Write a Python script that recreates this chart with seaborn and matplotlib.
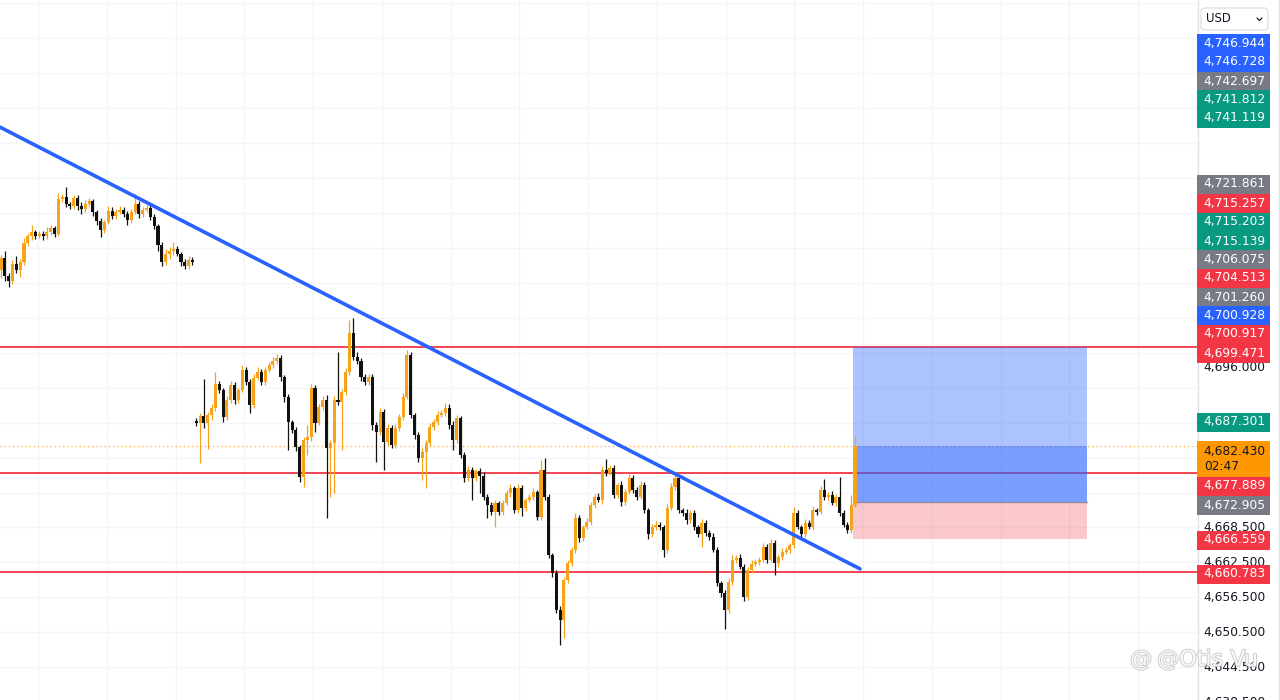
import matplotlib
matplotlib.use("Agg")
import matplotlib.pyplot as plt
import matplotlib.patheffects as pe
from matplotlib.patches import Rectangle, FancyBboxPatch
import pandas as pd
import seaborn as sns


# -------------------------
# Data
# -------------------------
# closes of the left session (before the gap)
closes_left = [
    4714.7, 4711.6, 4710.8, 4713.7, 4712.7, 4714.0, 4717.3, 4718.5, 4719.2, 4718.5,
    4718.8, 4718.5, 4719.2, 4719.9, 4718.8, 4724.9, 4725.2, 4724.0, 4723.6, 4725.0,
    4723.6, 4723.1, 4724.0, 4724.5, 4722.6, 4721.1, 4719.6, 4720.9, 4722.8, 4722.0,
    4722.6, 4723.0, 4722.3, 4721.3, 4722.6, 4724.0, 4722.3, 4723.0, 4723.3, 4721.8,
    4720.2, 4717.0, 4714.0, 4715.4, 4715.9, 4716.3, 4715.4, 4714.0, 4713.4, 4714.4,
    4714.0,
]
# closes of the right session (after the gap)
closes_right = [
    4686.5, 4687.7, 4686.5, 4687.8, 4689.0, 4693.1, 4692.1, 4687.5, 4690.4, 4692.9,
    4690.4, 4692.1, 4695.5, 4693.5, 4689.5, 4694.2, 4695.2, 4693.5, 4695.5, 4696.4,
    4697.0, 4697.6, 4694.3, 4690.9, 4686.6, 4685.3, 4682.3, 4677.2, 4683.5, 4684.0,
    4692.4, 4686.5, 4689.2, 4690.4, 4682.2, 4683.0, 4690.4, 4690.0, 4691.8, 4695.2,
    4701.9, 4697.8, 4697.0, 4694.3, 4693.5, 4694.3, 4686.1, 4684.9, 4688.3, 4683.2,
    4685.6, 4682.7, 4685.6, 4687.5, 4690.9, 4698.1, 4687.8, 4684.4, 4680.4, 4681.5,
    4683.0, 4685.8, 4686.6, 4687.8, 4688.2, 4689.0, 4686.1,
    4683.5, 4687.3, 4681.0, 4677.0, 4678.4, 4677.0, 4678.2, 4677.4, 4673.8, 4672.4,
    4671.2, 4672.7, 4671.2, 4672.7, 4674.4, 4675.3, 4671.5, 4675.3, 4671.9, 4673.2,
    4673.8, 4674.6, 4670.3, 4678.4, 4673.8, 4663.8, 4660.7, 4654.4, 4652.7, 4659.5,
    4662.4, 4664.7, 4670.2, 4666.7, 4668.6, 4669.5, 4672.4, 4673.8, 4673.2, 4678.4,
    4677.9, 4678.7, 4674.1, 4675.8, 4672.9, 4674.6, 4677.0, 4675.0, 4673.8, 4675.8,
    4671.5, 4667.3, 4668.6, 4669.0, 4668.6, 4664.7, 4671.9, 4675.5, 4677.0, 4671.5,
    4671.0, 4669.8, 4671.0,
    4668.6, 4667.3, 4669.3, 4667.6, 4666.9, 4664.7, 4659.0, 4657.3, 4654.4, 4659.2,
    4663.0, 4663.3, 4661.8, 4656.6, 4661.2, 4662.3, 4662.6, 4663.0, 4665.2, 4663.0,
    4665.9, 4662.4, 4663.5, 4664.3, 4664.7, 4665.5, 4671.0, 4668.6, 4667.3, 4669.3,
    4668.6, 4671.5, 4671.2, 4675.0, 4673.8, 4674.1, 4672.7, 4673.8, 4671.0, 4669.0,
    4668.1, 4672.4, 4682.43,
]
# wick lengths above / below the body
upper_left = [
    0.6, 1.2, 0.5, 0.7, 1.4, 0.5, 0.9, 0.6, 1.2, 0.4, 0.5, 0.6, 0.8, 0.5, 0.4, 1.0, 0.6,
    1.7, 0.4, 0.6, 0.5, 0.8, 0.6, 0.5, 0.4, 0.3, 0.5, 0.4, 0.9, 0.6, 0.5, 0.7, 0.4, 0.5,
    0.6, 1.8, 0.5, 0.4, 0.6, 0.5, 0.4, 0.3, 0.4, 0.9, 0.8, 1.2, 0.5, 0.4, 0.6, 0.7, 0.5,
]
lower_left = [
    1.4, 0.8, 1.0, 0.6, 0.5, 1.2, 0.4, 0.5, 0.6, 0.5, 0.4, 0.7, 0.5, 0.6, 0.5, 0.3, 0.5,
    0.6, 0.4, 0.5, 0.6, 0.8, 0.5, 0.4, 0.6, 0.7, 1.2, 0.5, 0.4, 0.6, 0.5, 0.4, 0.6, 0.9,
    0.5, 0.4, 0.7, 0.5, 0.4, 0.6, 0.5, 1.1, 0.6, 0.5, 0.8, 0.6, 0.4, 0.7, 0.6, 0.5, 0.4,
]
upper_right = [
    0.5, 0.4, 6.3, 0.5, 0.6, 2.1, 0.5, 0.4, 0.6, 0.8, 0.5, 0.4, 0.9, 0.5, 0.4, 0.6, 0.8,
    0.5, 0.6, 0.5, 0.7, 0.6, 0.5, 0.4, 0.5, 0.4, 0.5, 0.4, 0.6, 2.0, 0.8, 0.6, 0.5, 0.7,
    0.9, 0.5, 0.6, 8.2, 0.5, 0.6, 2.2, 2.6, 0.8, 0.5, 0.6, 0.5, 0.6, 0.5, 0.7, 0.5, 0.6,
    0.5, 0.6, 0.5, 0.7, 0.9, 0.5, 0.4, 0.5, 0.6, 0.5, 0.7, 0.5, 0.6, 0.5, 0.8, 0.6,
    0.6, 0.5, 0.4, 0.5, 0.6, 0.5, 0.4, 0.5, 0.6, 0.4, 0.5, 0.6, 0.4, 0.5, 0.6, 0.7, 0.4,
    0.6, 0.5, 0.4, 0.5, 0.6, 0.4, 1.7, 2.1, 0.5, 0.4, 0.5, 0.6, 0.5, 0.6, 0.5, 0.7, 0.5,
    0.4, 0.6, 0.5, 0.4, 0.6, 0.7, 1.8, 0.6, 0.5, 0.4, 0.6, 0.5, 0.7, 0.5, 0.4, 0.6, 0.5,
    0.4, 0.5, 0.6, 0.5, 0.4, 0.6, 0.7, 1.0, 0.5, 0.4, 0.6, 0.5,
    0.5, 0.4, 0.6, 0.5, 0.4, 0.6, 0.5, 0.4, 0.5, 0.6, 0.7, 0.5, 0.6, 0.4, 0.5, 0.6, 0.5,
    0.4, 0.6, 0.5, 0.7, 0.4, 0.5, 0.6, 0.5, 0.4, 1.0, 0.5, 0.4, 0.6, 0.5, 0.6, 0.4, 0.7,
    1.9, 0.5, 0.6, 0.4, 3.3, 0.5, 0.4, 1.7, 1.7,
]
lower_right = [
    0.6, 6.9, 0.9, 4.6, 0.8, 0.5, 0.6, 0.9, 0.5, 0.6, 0.7, 0.5, 0.4, 0.6, 1.4, 0.5, 0.4,
    0.6, 0.5, 0.4, 0.5, 0.4, 0.6, 0.8, 4.8, 0.6, 0.7, 0.9, 1.7, 2.5, 0.6, 1.7, 0.5, 0.6,
    12.0, 8.4, 8.6, 0.5, 8.2, 0.6, 0.5, 0.6, 0.5, 0.7, 0.5, 0.6, 0.8, 5.1, 0.6, 4.8, 0.7,
    0.6, 0.5, 0.6, 0.5, 0.4, 0.6, 0.8, 0.7, 3.8, 6.2, 0.5, 0.6, 0.5, 0.4, 0.6, 0.7,
    1.7, 0.5, 0.6, 0.7, 0.5, 3.8, 0.5, 2.9, 0.6, 2.2, 0.5, 2.7, 0.6, 0.5, 0.4, 0.6, 0.5,
    0.6, 1.5, 0.5, 0.4, 0.5, 0.6, 0.5, 0.6, 0.5, 0.7, 0.6, 4.3, 3.1, 0.6, 0.5, 0.6, 0.7,
    0.5, 0.4, 0.6, 0.5, 0.4, 0.6, 0.5, 0.4, 0.6, 0.5, 0.7, 0.5, 0.4, 0.6, 0.5, 0.4, 0.6,
    0.8, 0.5, 0.6, 0.5, 1.2, 0.5, 0.4, 0.5, 0.6, 0.5, 0.7, 0.5,
    0.6, 0.5, 2.1, 0.6, 0.5, 0.4, 0.6, 0.7, 3.4, 0.6, 0.5, 0.6, 0.4, 0.7, 0.6, 0.5, 0.4,
    0.6, 0.5, 0.6, 0.5, 2.1, 0.6, 0.5, 0.4, 0.6, 0.5, 0.4, 0.6, 0.5, 0.4, 0.6, 0.5, 0.4,
    0.6, 0.5, 0.4, 0.6, 0.5, 0.4, 0.6, 0.5, 0.4,
]
first_open = 4712.7
gap_open = 4686.8

# horizontal levels and drawings
red_levels = [4699.471, 4677.889, 4660.783]
last_price = 4682.430
trend_x = [-0.3, 224.3]
trend_y = [4737.2, 4661.4]

# long position tool
entry = 4672.905
target = 4699.471
stop = 4666.559
box_x = [222.5, 283.5]

# price scale
price_ticks = [4638.5, 4644.5, 4650.5, 4656.5, 4662.5, 4668.5, 4696.0]
grid_prices = [4638.5 + 6 * k for k in range(21)]
grid_bars = [9.7, 27.6, 45.6, 63.5, 81.5, 99.4, 117.4, 135.3, 153.3, 171.2,
             189.2, 207.1, 225.1, 243.0, 261.0, 278.9, 296.9]

# price tags on the right scale
tag_texts = ["4,746.944", "4,746.728", "4,742.697", "4,741.812", "4,741.119",
             "4,721.861", "4,715.257", "4,715.203", "4,715.139", "4,706.075",
             "4,704.513", "4,701.260", "4,700.928", "4,700.917", "4,699.471",
             "4,687.301", "4,677.889", "4,672.905", "4,666.559", "4,660.783"]
tag_colors = ["#2962ff", "#2962ff", "#787b86", "#089981", "#089981",
              "#787b86", "#f23645", "#089981", "#089981", "#787b86",
              "#f23645", "#787b86", "#2962ff", "#f23645", "#f23645",
              "#089981", "#f23645", "#787b86", "#f23645", "#f23645"]
tag_rows = [43, 62, 81, 99, 118, 184, 203, 222, 241, 259, 278, 297, 315, 334, 353,
            422, 486, 505, 540, 574]
countdown = "02:47"

UP = "#f7a21b"
DOWN = "#111111"


# -------------------------
# Candles
# -------------------------
df = pd.DataFrame({
    "close": closes_left + closes_right,
    "upper": upper_left + upper_right,
    "lower": lower_left + lower_right,
})
df["open"] = df["close"].shift(1)
df.loc[0, "open"] = first_open
df.loc[len(closes_left), "open"] = gap_open
df["top"] = df[["open", "close"]].max(axis=1)
df["bot"] = df[["open", "close"]].min(axis=1)
df["high"] = df["top"] + df["upper"]
df["low"] = df["bot"] - df["lower"]
df["color"] = [UP if c >= o else DOWN for o, c in zip(df["open"], df["close"])]
df["x"] = range(len(df))

sns.set_theme(style="white")
plt.rcParams["font.family"] = ["DejaVu Sans"]

fig = plt.figure(figsize=(12.8, 7), dpi=100)
fig.patch.set_facecolor("white")
ax = fig.add_axes([0, 0, 1197 / 1280, 1])
ylim = (4638.9, 4759.0)
ax.set_xlim(-0.26, 312.3)
ax.set_ylim(*ylim)

for gx in grid_bars:
    ax.axvline(gx, color="#f4f5f9", lw=1, zorder=0)
for gy in grid_prices:
    ax.axhline(gy, color="#f4f5f9", lw=1, zorder=0)

for lvl in red_levels:
    ax.axhline(lvl, color="#f23645", lw=1.3, zorder=2)

ax.axhline(last_price, color="#ff9800", lw=1, ls=(0, (1, 2)), alpha=0.7, zorder=2)

# position tool
bw = box_x[1] - box_x[0]
ax.add_patch(Rectangle((box_x[0], entry), bw, target - entry, fc="#2962ff",
                       alpha=0.38, lw=0, zorder=3))
ax.add_patch(Rectangle((box_x[0], entry), bw, last_price - entry, fc="#2962ff",
                       alpha=0.38, lw=0, zorder=3))
ax.add_patch(Rectangle((box_x[0], stop), bw, entry - stop, fc="#f23645",
                       alpha=0.27, lw=0, zorder=3))
ax.plot(box_x, [entry, entry], color="#8c8fa0", lw=1, zorder=3)

ax.vlines(df["x"], df["low"], df["high"], colors=df["color"], lw=0.9, zorder=4)
heights = (df["top"] - df["bot"]).clip(lower=0.2)
ax.bar(df["x"], heights, bottom=df["bot"], width=0.8, color=df["color"],
       lw=0, zorder=4)

sns.lineplot(x=trend_x, y=trend_y, ax=ax, color="#2962ff", lw=2.6, zorder=5,
             legend=False)

ax.set_xticks([])
ax.set_yticks([])
ax.set_xlabel("")
ax.set_ylabel("")
for s in ax.spines.values():
    s.set_visible(False)

# -------------------------
# Price scale
# -------------------------
panel = fig.add_axes([1197 / 1280, 0, 83 / 1280, 1])
panel.set_xlim(0, 83)
panel.set_ylim(*ylim)
panel.set_facecolor("white")
panel.set_xticks([])
panel.set_yticks([])
for s in panel.spines.values():
    s.set_visible(False)
for p in price_ticks:
    panel.text(37, p, f"{p:,.3f}", ha="center", va="center", fontsize=8.8,
               color="#131722", zorder=1)

over = fig.add_axes([1197 / 1280, 0, 83 / 1280, 1])
over.set_xlim(0, 83)
over.set_ylim(700, 0)
over.patch.set_alpha(0)
over.set_xticks([])
over.set_yticks([])
for s in over.spines.values():
    s.set_visible(False)
over.axvline(0.5, color="#e0e3eb", lw=1)
over.axvline(81.5, color="#e0e3eb", lw=1)

for txt, col, row in zip(tag_texts, tag_colors, tag_rows):
    over.add_patch(Rectangle((0, row - 9.5), 73, 19, fc=col, lw=0, zorder=3))
    over.text(37, row, txt, ha="center", va="center", fontsize=8.8,
              color="white", zorder=4)

over.add_patch(Rectangle((0, 441), 73, 36, fc="#ff9800", lw=0, zorder=3))
over.text(37, 451, f"{last_price:,.3f}", ha="center", va="center", fontsize=8.8,
          color="#131722", zorder=4)
over.text(7, 466, countdown, ha="left", va="center", fontsize=8.8,
          color="#131722", zorder=4)

over.add_patch(FancyBboxPatch((4, 8), 67, 22, boxstyle="round,pad=0,rounding_size=4",
                              fc="white", ec="#e0e3eb", lw=1, zorder=3))
over.text(9, 19, "USD", ha="left", va="center", fontsize=8.4, color="#131722", zorder=4)
over.plot([60, 62.5, 65], [18, 20.5, 18], color="#131722", lw=0.9, zorder=4)

# watermark
wm = dict(fontsize=16, color="white", alpha=0.85,
          path_effects=[pe.withStroke(linewidth=1.3, foreground="#c4c4c4")])
fig.text(1130 / 1280, 1 - 660 / 700, "@", ha="left", va="center", **wm)
fig.text(1157 / 1280, 1 - 660 / 700, "@Otis Vu", ha="left", va="center", **wm)

fig.savefig("out.png", dpi=100, facecolor="white")
